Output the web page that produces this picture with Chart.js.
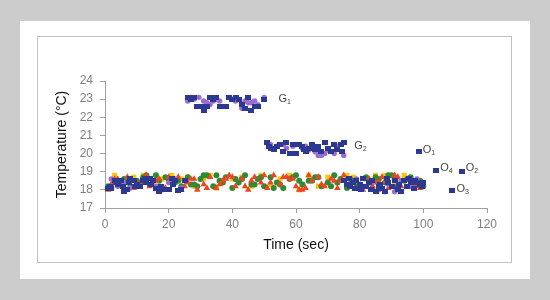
<!DOCTYPE html>
<html>
<head>
<meta charset="utf-8">
<script src="https://cdn.jsdelivr.net/npm/chart.js@4"></script>
<style>
body { margin: 0; width: 550px; height: 300px; background: #cccccc; position: relative; overflow: hidden; }
#panel { position: absolute; left: 20px; top: 21px; width: 510px; height: 258px; background: #ffffff; }
#box { position: absolute; left: 37px; top: 36px; width: 473px; height: 225px; border: 1px solid #c2c2c2; background: #ffffff; }
</style>
</head>
<body>
<div id="panel"></div>
<div id="box"><canvas id="mycanvas" width="473" height="225"></canvas></div>
<script>
// G1 cluster
var g1BlueX = [26,27,28,29,30,31,32,33,34,35,36,37,38,39,40,41,42,43,44,45,46,47,48,50];
var g1BlueY = [23.1,23.0,23.1,22.6,22.6,22.4,22.6,23.1,23.0,23.1,22.6,22.6,22.6,23.1,23.0,23.1,23.0,22.7,22.5,23.1,22.4,22.6,22.6,23.0];
var g1PurpleX = [26,27,28,29.5,31,32,33,34,35,36,39,40,41,43,44,45,46,47,48,50];
var g1PurpleY = [22.9,23.1,23.0,23.1,22.9,22.8,22.7,22.9,23.0,22.9,23.1,23.0,22.9,22.5,22.9,22.8,22.8,22.9,22.7,23.1];

// G2 cluster
var g2BlueX = [51,51.5,52,53,54,55,56,57,58,59,60,61,62,62.5,63,64,65,66,67,68,69,70,71,72,73,74,74.5,75];
var g2BlueY = [20.6,20.4,20.3,20.2,20.4,20.5,20.1,20.6,20.0,20.5,20.0,20.5,20.4,20.2,20.1,20.3,20.5,20.2,20.4,20.1,20.6,20.3,20.1,20.5,20.2,20.5,20.1,20.6];
var g2PurpleX = [52,54,56,57,59,60,62,63,64,66,67,68,69,70,72,73,75];
var g2PurpleY = [20.5,20.4,20.5,20.3,20.4,20.5,20.3,20.4,20.2,20.1,19.9,19.9,20.0,20.2,20.0,20.4,19.9];

// low band
var blueLowX = [1,1.5,2,3,3.5,4,5,5.5,6,7,7.5,8,9,9.5,10,11,12,12.5,13,14,14.5,15,16,17,17.5,19,20,21,21.5,22,23,24,25,
  75,76,76.5,77,78,78.5,79,80,80.5,81,82,83,83.5,84,85,86,86.5,87,88,88.5,89,90,91,92,92.5,93,94,95,95.5,96,97,97.5,98,99,99.5,100];
var blueLowY = [18.1,18.2,18.1,18.5,18.4,18.3,18.5,18.2,17.9,18.0,18.4,18.6,18.5,18.2,18.3,18.2,18.5,18.6,18.4,18.6,18.3,18.5,18.1,17.9,18.2,18.0,18.0,18.6,18.3,18.5,17.95,18.0,18.5,
  18.5,18.3,18.6,18.2,18.4,18.1,18.5,18.3,18.0,18.6,18.2,18.4,18.0,18.5,17.9,18.2,18.3,18.1,17.9,18.6,18.4,18.2,18.5,18.0,18.3,17.9,18.5,18.2,18.6,18.4,18.1,18.5,18.4,18.3,18.2,18.4];
var purpleLowX = [2,4,6,8,10,13,16,18,20,22,24,77,79,81,84,86,88,89,91,93,96,98];
var purpleLowY = [18.6,18.2,18.4,18.1,18.3,18.5,18.2,18.0,18.4,18.6,18.1,18.3,18.6,18.1,18.4,18.0,17.9,18.3,17.9,18.5,18.2,18.6];
var redX = [1,3,5,7,9,11,13,15,17,19,21,23,25,27,29,31,33,35,37,39,41,43,45,47,49,51,53,55,57,59,61,63,65,67,69,71,73,75,77,79,81,83,85,87,89,91,93,95,97,99,
  2,8,14,20,26,32,38,44,50,56,58,62,68,74,80,86,92,98,
  4,10,16,24,28,36,40,46,52,60,64,72,76,84,88,96];
var redY = [18.0,18.6,18.2,18.7,18.1,18.4,18.8,18.3,18.6,18.1,18.5,18.7,18.2,18.6,18.0,18.3,18.7,18.1,18.5,18.8,18.2,18.6,18.0,18.7,18.4,18.1,18.8,18.3,18.7,18.6,18.0,18.1,18.5,18.7,18.2,18.6,18.1,18.8,18.3,18.5,18.0,18.6,18.4,18.7,18.1,18.8,18.2,18.6,18.3,18.1,
  18.3,18.5,18.2,18.7,18.4,18.1,18.6,18.2,18.8,18.7,18.6,18.0,18.3,18.5,18.1,18.4,18.7,18.2,
  18.6,18.2,18.5,18.0,18.6,18.3,18.7,18.5,18.4,18.2,18.8,18.5,18.6,18.2,18.5,18.4];
var greenX = [2,4,6,8,10,12,14,16,18,20,22,24,26,28,30,32,34,36,38,40,42,44,46,48,50,52,54,56,58,60,62,64,66,68,70,72,74,76,78,80,82,84,86,88,90,92,94,96,98,100,
  5,13,17,29,35,41,47,53,59,65,71,77,83,89,95,
  1,7,11,19,23,27,31,37,43,49,55,61,67,73,79,85,91,97,99];
var greenY = [18.1,18.4,18.6,18.2,18.5,18.7,18.3,18.8,18.1,18.6,18.4,18.2,18.7,18.3,18.6,18.8,18.2,18.5,18.7,18.1,18.4,18.8,18.3,18.6,18.2,18.7,18.4,18.1,18.6,18.8,18.3,18.5,18.7,18.2,18.4,18.8,18.6,18.1,18.5,18.3,18.7,18.1,18.6,18.4,18.8,18.2,18.5,18.7,18.3,18.2,
  18.3,18.8,18.5,18.2,18.8,18.6,18.3,18.1,18.7,18.5,18.2,18.6,18.4,18.8,18.6,
  18.2,18.6,18.3,18.7,18.5,18.3,18.8,18.4,18.6,18.7,18.3,18.5,18.7,18.4,18.2,18.7,18.6,18.3,18.5];
var yellowX = [3,9,15,21,24,28,33,37,43,49,52,55,61,64,67,70,73,76,79,82,85,91,94,97,
  6,12,18,26,31,35,40,46,58,78,88];
var yellowY = [18.8,18.7,18.3,18.8,18.6,18.2,18.8,18.4,18.7,18.8,18.3,18.6,18.0,18.8,18.2,18.7,18.4,18.8,18.1,18.6,18.8,18.3,18.8,18.5,
  18.5,18.8,18.6,18.7,18.6,18.1,18.6,18.2,18.8,18.7,18.8];

// O points
var oX = [98.5, 104, 112, 109];
var oY = [20.1, 19.05, 19.0, 17.98];

// text labels next to the groups
var labelMain = ['G', 'G', 'O', 'O', 'O', 'O'];
var labelSub = ['1', '2', '1', '4', '2', '3'];
var labelX = [54.5, 78.3, 99.8, 105.3, 113.3, 110.4];
var labelY = [23.0, 20.4, 20.2, 19.2, 19.2, 18.07];

var xTicks = [0, 20, 40, 60, 80, 100, 120];
var yTicks = [17, 18, 19, 20, 21, 22, 23, 24];

function pts(xs, ys) {
    return xs.map(function(x, i) { return {x: x, y: ys[i]}; });
}

var blue = '#2b3990';
var purple = '#9b6bcf';

// blue markers are a bit wider than tall
var blueMark = document.createElement('canvas');
blueMark.width = 6;
blueMark.height = 5;
var bm = blueMark.getContext('2d');
bm.fillStyle = blue;
bm.fillRect(0, 0, 6, 5);

var groupLabels = {
    id: 'groupLabels',
    afterDatasetsDraw: function(chart) {
        var ctx = chart.ctx;
        var xs = chart.scales.x, ys = chart.scales.y;
        ctx.save();
        ctx.fillStyle = '#444444';
        ctx.textBaseline = 'middle';
        for (var i = 0; i < labelMain.length; i++) {
            var px = xs.getPixelForValue(labelX[i]);
            var py = ys.getPixelForValue(labelY[i]);
            ctx.font = '11px "Liberation Sans"';
            ctx.fillText(labelMain[i], px, py);
            var w = ctx.measureText(labelMain[i]).width;
            ctx.font = '7px "Liberation Sans"';
            ctx.fillText(labelSub[i], px + w, py + 3);
        }
        ctx.restore();
    }
};

var ctx = document.getElementById('mycanvas');

var chart = new Chart(ctx, {
    type: 'scatter',
    data: {
        datasets: [
            { data: pts(g1BlueX, g1BlueY).concat(pts(g2BlueX, g2BlueY), pts(blueLowX, blueLowY), pts(oX, oY)),
              pointStyle: blueMark, pointRadius: 3.5, backgroundColor: blue, borderColor: blue, borderWidth: 0 },
            { data: pts(g1PurpleX, g1PurpleY).concat(pts(g2PurpleX, g2PurpleY), pts(purpleLowX, purpleLowY)),
              pointStyle: 'circle', pointRadius: 2.7, backgroundColor: purple, borderColor: purple, borderWidth: 0 },
            { data: pts(redX, redY), pointStyle: 'triangle', pointRadius: 3.8,
              backgroundColor: '#ef4422', borderColor: '#ef4422', borderWidth: 0 },
            { data: pts(greenX, greenY), pointStyle: 'circle', pointRadius: 3,
              backgroundColor: '#2e8b34', borderColor: '#2e8b34', borderWidth: 0 },
            { data: pts(yellowX, yellowY), pointStyle: 'rect', pointRadius: 3.6,
              backgroundColor: '#ffc30f', borderColor: '#ffc30f', borderWidth: 0 }
        ]
    },
    options: {
        responsive: false,
        animation: false,
        layout: { padding: { left: 12, top: 44, right: 24, bottom: 4 } },
        plugins: { legend: { display: false }, tooltip: { enabled: false } },
        scales: {
            x: {
                type: 'linear', min: 0, max: 120,
                afterBuildTicks: function(s) { s.ticks = xTicks.map(function(v) { return {value: v}; }); },
                afterFit: function(s) { s.height = 50; },
                grid: { drawOnChartArea: false, tickLength: 5, color: '#a0a0a0' },
                border: { color: '#a0a0a0' },
                ticks: { padding: 4, color: '#808080', font: { family: 'Liberation Sans', size: 12 } },
                title: { display: true, text: 'Time (sec)', color: '#111111', font: { family: 'Liberation Sans', size: 14 } }
            },
            y: {
                type: 'linear', min: 17, max: 24,
                afterBuildTicks: function(s) { s.ticks = yTicks.map(function(v) { return {value: v}; }); },
                afterFit: function(s) { s.width = 55; },
                grid: { drawOnChartArea: false, tickLength: 5, color: '#a0a0a0' },
                border: { color: '#a0a0a0' },
                ticks: { padding: 7, color: '#808080', font: { family: 'Liberation Sans', size: 12 } },
                title: { display: true, text: 'Temperature (°C)', color: '#111111', font: { family: 'Liberation Sans', size: 14 } }
            }
        }
    },
    plugins: [groupLabels]
});
</script>
</body>
</html>
